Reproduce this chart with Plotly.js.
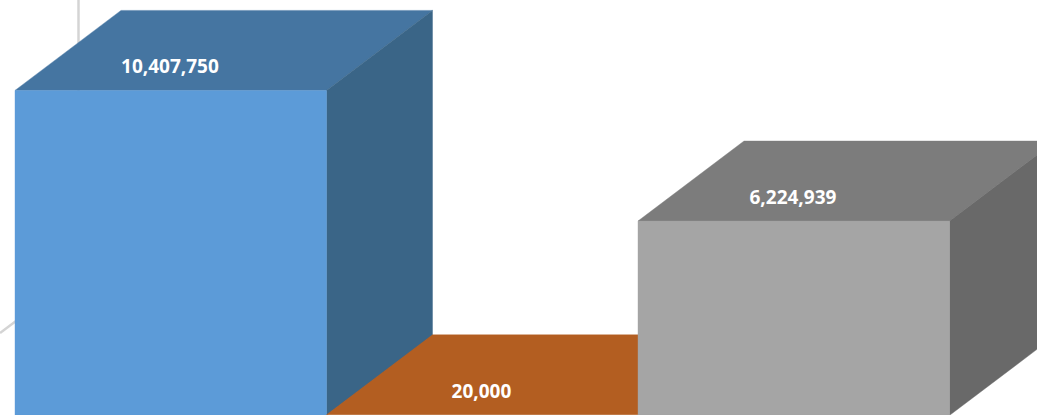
<!DOCTYPE html>
<html>
<head>
<meta charset="utf-8">
<script src="https://cdn.plot.ly/plotly-3.0.1.min.js"></script>
<style>html,body{margin:0;padding:0;background:#fff;overflow:hidden}</style>
</head>
<body>
<div id="chart" style="width:1037px;height:415px"></div>
<script>
// Data
const categories = ["Item 1", "Item 2", "Item 3"];
const values = [10407750, 20000, 6224939];
const labels = ["10,407,750", "20,000", "6,224,939"];

// Colours per bar
const frontColors = ["#5C9BD8", "#B35E21", "#A5A5A5"];
const topColors = ["#4575A1", "#B35E21", "#7C7C7C"];
const sideColors = ["#3A6587", "#9A5018", "#696969"];

// Layout geometry
const W = 1037, H = 415;
const BAR_PX = 311.5, LEFT_PX = 15;
const UNITS_PER_PX = 10407750 / 325;
const DEPTH_X = 106 / BAR_PX;
const DEPTH_Y = 80 * UNITS_PER_PX;
const LABEL_LIFT = 22 * UNITS_PER_PX;
const LABEL_NUDGE_X = -0.8 / BAR_PX;
const xMin = -0.5 - LEFT_PX / BAR_PX;
const xMax = xMin + W / BAR_PX;
const yMin = 0.4 * UNITS_PER_PX;
const yMax = yMin + H * UNITS_PER_PX;

function face(xs, ys, color, name) {
  return {
    type: "scatter", mode: "lines", x: xs, y: ys, fill: "toself",
    fillcolor: color, line: {color: color, width: 0.4},
    name: name, hoverinfo: "skip", showlegend: false
  };
}

const traces = [];
categories.forEach((cat, i) => {
  const v = values[i], l = i - 0.5, r = i + 0.5;
  traces.push(face([l, r, r + DEPTH_X, l + DEPTH_X, l], [v, v, v + DEPTH_Y, v + DEPTH_Y, v], topColors[i], cat + " top"));
  traces.push(face([r, r + DEPTH_X, r + DEPTH_X, r, r], [0, DEPTH_Y, v + DEPTH_Y, v, 0], sideColors[i], cat + " side"));
  traces.push(face([l, r, r, l, l], [0, 0, v, v, 0], frontColors[i], cat));
});
traces.push({
  type: "scatter", mode: "text",
  x: categories.map((c, i) => i + LABEL_NUDGE_X),
  y: values.map(v => v + LABEL_LIFT),
  text: labels, textposition: "middle center",
  textfont: {family: "'Open Sans', sans-serif", size: 19, color: "#ffffff", weight: 700},
  hoverinfo: "skip", showlegend: false, cliponaxis: false
});

const wall = {color: "#D4D4D4", width: 2.5};
const layout = {
  width: W, height: H,
  margin: {l: 0, r: 0, t: 0, b: 0, pad: 0},
  paper_bgcolor: "#ffffff", plot_bgcolor: "#ffffff",
  showlegend: false, hovermode: false,
  xaxis: {visible: false, range: [xMin, xMax], fixedrange: true},
  yaxis: {visible: false, range: [yMin, yMax], fixedrange: true},
  shapes: [
    {type: "line", xref: "paper", yref: "paper", layer: "below", x0: 78.5 / W, x1: 78.5 / W, y0: 1, y1: 1 - 274 / H, line: wall},
    {type: "line", xref: "paper", yref: "paper", layer: "below", x0: 0, x1: 78.5 / W, y0: 1 - 333 / H, y1: 1 - 274 / H, line: wall}
  ]
};
Plotly.newPlot("chart", traces, layout, {displayModeBar: false, staticPlot: true});
</script>
</body>
</html>
